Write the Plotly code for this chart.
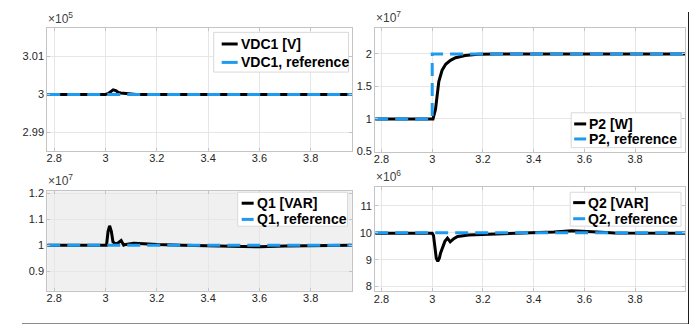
import plotly.graph_objects as go

W, H = 697, 324

# ---------------- data (values shown in the axis exponent units) ----------------
# VDC1 [V]  (x1e5)
t_vdc1 = [2.773, 3.0, 3.01, 3.02, 3.03, 3.04, 3.05, 3.06, 3.08, 3.10, 3.12, 3.30, 3.45, 3.55, 3.65, 3.75, 3.96]
vdc1 = [3.0, 3.0, 3.0002, 3.0008, 3.0012, 3.0010, 3.0005, 3.0004, 3.0003, 3.0001, 3.0, 3.0, 2.99995, 2.9999, 2.99995, 3.0, 3.0]
t_vdc1_ref = [2.773, 3.96]
vdc1_ref = [3.0, 3.0]

# P2 [W]  (x1e7)
t_p2 = [2.775, 3.003, 3.013, 3.02, 3.026, 3.039, 3.053, 3.072, 3.092, 3.13, 3.18, 3.25, 3.997]
p2 = [1.0, 1.0, 1.15, 1.40, 1.575, 1.75, 1.84, 1.90, 1.94, 1.975, 1.995, 2.0, 2.0]
t_p2_ref = [2.775, 3.0, 3.0, 3.997]
p2_ref = [1.0, 1.0, 2.0, 2.0]

# Q1 [VAR]  (x1e7)
t_q1 = [2.773, 3.004, 3.01, 3.016, 3.023, 3.029, 3.038, 3.048, 3.061, 3.071, 3.08, 3.11, 3.15, 3.2,
        3.3, 3.4, 3.5, 3.55, 3.6, 3.7, 3.8, 3.96]
q1 = [1.0, 1.0, 1.053, 1.075, 1.053, 1.013, 1.005, 1.008, 1.018, 1.0, 1.003, 1.008, 1.006, 1.003,
      1.0, 0.998, 0.994, 0.993, 0.994, 0.997, 0.999, 1.0]
t_q1_ref = [2.773, 3.96]
q1_ref = [1.0, 1.0]

# Q2 [VAR]  (x1e6)
t_q2 = [2.775, 3.0, 3.005, 3.01, 3.016, 3.022, 3.028, 3.033, 3.04, 3.05, 3.06, 3.071, 3.085, 3.1,
        3.143, 3.26, 3.4, 3.48, 3.55, 3.6, 3.65, 3.72, 3.997]
q2 = [9.98, 9.98, 9.9, 9.5, 9.05, 8.94, 9.05, 9.25, 9.4, 9.68, 9.8, 9.66, 9.78, 9.86,
      9.92, 9.95, 9.99, 10.03, 10.07, 10.06, 10.03, 9.99, 9.98]
t_q2_ref = [2.775, 3.997]
q2_ref = [10.0, 10.0]

x_ticks = [2.8, 3.0, 3.2, 3.4, 3.6, 3.8]
x_ticktext = ["2.8", "3", "3.2", "3.4", "3.6", "3.8"]

BLACK = "#000000"
BLUE = "#1e9bf0"
DASH = "13px,7px"

# ---------------- helpers ----------------
def xd(a, b):
    return [a / W, b / W]

def yd(top, bottom):
    return [1 - bottom / H, 1 - top / H]

fig = go.Figure()

panels = [
    dict(ax="", t=t_vdc1, y=vdc1, tr=t_vdc1_ref, yr=vdc1_ref),
    dict(ax="2", t=t_p2, y=p2, tr=t_p2_ref, yr=p2_ref),
    dict(ax="3", t=t_q1, y=q1, tr=t_q1_ref, yr=q1_ref),
    dict(ax="4", t=t_q2, y=q2, tr=t_q2_ref, yr=q2_ref),
]
for p in panels:
    fig.add_trace(go.Scatter(x=p["t"], y=p["y"], mode="lines", xaxis="x" + p["ax"], yaxis="y" + p["ax"],
                             line=dict(color=BLACK, width=3), showlegend=False))
    fig.add_trace(go.Scatter(x=p["tr"], y=p["yr"], mode="lines", xaxis="x" + p["ax"], yaxis="y" + p["ax"],
                             line=dict(color=BLUE, width=3, dash=DASH), showlegend=False))

GRID = "#e6e6e6"
LINE = "#c4c4c4"
FAMILY = "Liberation Sans, Arial, sans-serif"
TICKF = dict(family=FAMILY, size=11, color="#262626")

def xaxis(dom, rng, anchor):
    return dict(domain=dom, range=rng, anchor=anchor, tickvals=x_ticks, ticktext=x_ticktext,
                showgrid=True, gridcolor=GRID, gridwidth=1, zeroline=False,
                showline=True, linecolor=LINE, linewidth=1, mirror="ticks",
                ticks="inside", ticklen=3, tickcolor=LINE, tickfont=TICKF, ticklabelstandoff=-3)

def yaxis(dom, rng, anchor, tv, tt):
    return dict(domain=dom, range=rng, anchor=anchor, tickvals=tv, ticktext=tt,
                showgrid=True, gridcolor=GRID, gridwidth=1, zeroline=False,
                showline=True, linecolor=LINE, linewidth=1, mirror="ticks",
                ticks="inside", ticklen=3, tickcolor=LINE, tickfont=TICKF)

fig.update_layout(
    width=W, height=H, margin=dict(l=0, r=0, t=0, b=0),
    paper_bgcolor="white", plot_bgcolor="white",
    xaxis=xaxis(xd(38.3, 343.3), [2.773, 3.96], "y"),
    yaxis=yaxis(yd(17, 143.3), [2.9852, 3.0173], "x", [2.99, 3.0, 3.01], ["2.99", "3", "3.01"]),
    xaxis2=xaxis(xd(366.7, 677), [2.775, 3.997], "y2"),
    yaxis2=yaxis(yd(16, 144), [0.5, 2.405], "x2", [0.5, 1.0, 1.5, 2.0], ["0.5", "1", "1.5", "2"]),
    xaxis3=xaxis(xd(38.3, 343.3), [2.773, 3.96], "y3"),
    yaxis3=yaxis(yd(185, 287.7), [0.8235, 1.2086], "x3", [0.9, 1.0, 1.1, 1.2], ["0.9", "1", "1.1", "1.2"]),
    xaxis4=xaxis(xd(366.7, 677), [2.775, 3.997], "y4"),
    yaxis4=yaxis(yd(180.7, 288.3), [7.82, 11.695], "x4", [8, 9, 10, 11], ["8", "9", "10", "11"]),
)

shapes = []
annotations = []

# grey background of the Q1 panel
shapes.append(dict(type="rect", xref="x3 domain", yref="y3 domain", x0=0, x1=1, y0=0, y1=1,
                   fillcolor="#f0f0f0", line=dict(width=0), layer="below"))

# figure frame lines (right and bottom)
shapes.append(dict(type="line", xref="paper", yref="paper", x0=681 / W, x1=681 / W, y0=1 - 322.5 / H, y1=1,
                   line=dict(color="#1a1a1a", width=2)))
shapes.append(dict(type="line", xref="paper", yref="paper", x0=13 / W, x1=682 / W, y0=1 - 322.5 / H,
                   y1=1 - 322.5 / H, line=dict(color="#1a1a1a", width=2)))

# exponent labels
for exp_txt, xl, ytop in [("5", 37, 17), ("7", 366, 16), ("7", 37, 185), ("6", 366, 180.7)]:
    annotations.append(dict(xref="paper", yref="paper", x=xl / W, y=1 - (ytop - 1) / H,
                            xanchor="left", yanchor="bottom", showarrow=False,
                            text="\u00d710<sup>" + exp_txt + "</sup>",
                            font=dict(family=FAMILY, size=12, color="#404040")))

# manual legends (MATLAB style)
LEGF = dict(family=FAMILY, size=14, color="#000000", weight="bold")
legends = [
    dict(box=(205, 21, 340, 62), rows=(33, 52), sample=(213, 229), tx=230,
         labels=("VDC1 [V]", "VDC1, reference")),
    dict(box=(563, 104, 673, 140), rows=(115.5, 131), sample=(566, 578), tx=579,
         labels=("P2 [W]", "P2, reference")),
    dict(box=(229, 186, 339, 221), rows=(197.3, 214), sample=(233, 245), tx=246,
         labels=("Q1 [VAR]", "Q1, reference")),
    dict(box=(562, 186, 673, 221), rows=(196.7, 213.3), sample=(565, 577), tx=578,
         labels=("Q2 [VAR]", "Q2, reference")),
]
for lg in legends:
    x0, y0, x1, y1 = lg["box"]
    shapes.append(dict(type="rect", xref="paper", yref="paper", x0=x0 / W, x1=x1 / W,
                       y0=1 - y1 / H, y1=1 - y0 / H, fillcolor="white",
                       line=dict(color="#d9d9d9", width=1), layer="above"))
    for row, col, lab in zip(lg["rows"], (BLACK, BLUE), lg["labels"]):
        shapes.append(dict(type="line", xref="paper", yref="paper", x0=lg["sample"][0] / W,
                           x1=lg["sample"][1] / W, y0=1 - row / H, y1=1 - row / H,
                           line=dict(color=col, width=3), layer="above"))
        annotations.append(dict(xref="paper", yref="paper", x=lg["tx"] / W, y=1 - row / H,
                                xanchor="left", yanchor="middle", showarrow=False, text=lab,
                                font=LEGF))

fig.update_layout(shapes=shapes, annotations=annotations)

fig.write_html("out.html")
